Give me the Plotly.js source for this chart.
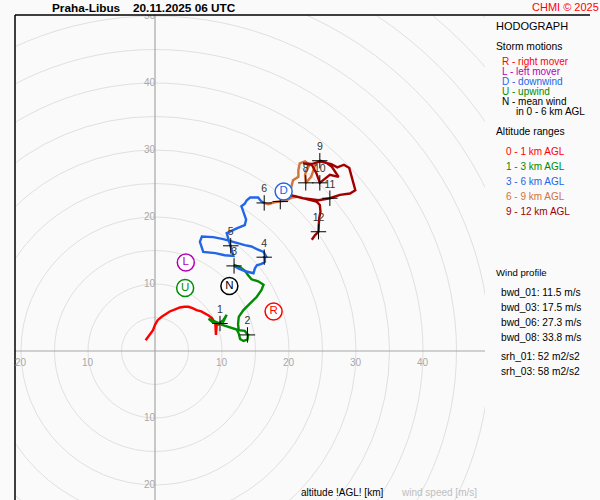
<!DOCTYPE html>
<html>
<head>
<meta charset="utf-8">
<script src="https://cdn.plot.ly/plotly-3.0.1.min.js"></script>
<style>html,body{margin:0;padding:0;background:#fafafa;}#chart{width:600px;height:500px;}</style>
</head>
<body>
<div id="chart"></div>
<script>
// ---------------- DATA (m/s, u = east, v = north) ----------------
const station = "Praha-Libus";
const timeLabel = "20.11.2025 06 UTC";

const layer01_u = [-1.4,-0.75,-0.3,0.0,0.4,1.0,1.6,2.2,3.0,3.7,4.4,5.0,5.6,6.2,6.9,7.5,8.0,8.5,9.0,9.1,9.2,9.7];
const layer01_v = [1.6,2.4,3.1,3.9,4.6,5.1,5.5,5.9,6.2,6.5,6.6,6.6,6.4,6.1,5.9,5.6,5.3,4.9,4.1,2.4,3.8,4.1];

const layer13_u = [9.7,8.6,8.0,8.6,9.5,10.2,10.7,10.2,10.0,10.9,12.2,12.5,12.7,13.2,13.8,13.9,13.4,12.5,12.4,12.5,13.2,14.2,15.2,15.9,16.2,15.4,14.4,13.9,13.4,12.7,11.9,11.8];
const layer13_v = [4.1,4.5,4.8,4.3,4.1,4.6,5.4,4.4,3.9,3.6,3.2,2.6,1.8,1.5,1.7,2.4,3.0,3.1,4.0,5.1,6.1,7.1,8.1,9.1,9.9,10.4,10.7,11.3,12.0,12.5,12.8,12.7];

const layer36_u = [11.8,12.5,13.5,14.4,14.7,14.9,15.2,15.9,16.4,16.4,16.3,16.6,16.2,15.2,14.4,13.4,11.7,10.2,8.7,7.0,6.7,7.0,7.2,9.0,10.4,11.7,11.3,11.0,10.7,12.2,13.4,13.6,13.2,12.9,13.4,13.7,14.2,15.4,15.8,16.3];
const layer36_v = [12.7,12.3,11.9,11.6,11.6,12.3,12.8,13.0,13.3,13.8,14.0,14.1,14.8,15.2,15.6,15.8,16.3,16.7,17.0,17.1,16.3,15.3,14.8,14.6,14.3,14.2,15.7,16.8,17.6,18.3,18.8,19.6,20.8,21.6,22.0,22.5,22.9,22.9,22.4,22.1];

const layer69_u = [16.3,16.9,17.8,18.7,19.6,20.4,21.3,20.4,20.1,20.3,20.4,20.6,21.4,21.4,21.6,22.4,23.1,22.6,22.4,22.5,23.3,23.6,24.0,24.6];
const layer69_v = [22.1,21.9,22.2,22.3,22.5,22.9,23.0,23.0,23.5,24.3,25.0,25.5,26.0,27.0,28.0,28.3,27.8,27.0,26.3,25.1,26.0,27.0,28.0,28.4];

const layer912_u = [24.6,25.6,26.4,27.4,26.1,24.6,24.1,23.4,22.1,23.4,24.6,26.3,27.2,28.2,29.0,29.3,29.7,29.9,29.1,27.6,26.1,24.4,22.1,20.1,22.1,24.1,24.6,24.7,24.5,24.4,23.9,23.4];
const layer912_v = [28.4,28.1,27.5,26.0,26.3,25.1,26.5,27.8,28.0,27.9,28.3,27.9,27.4,27.8,27.3,26.3,24.8,24.0,23.5,23.3,22.8,22.5,22.8,23.3,22.9,22.3,21.8,20.8,19.8,17.8,17.3,16.6];

const km_labels = ["1","2","3","4","5","6","7","8","9","10","11","12"];
const km_u = [9.7,13.8,11.8,16.3,11.3,16.3,18.7,22.5,24.6,24.6,26.1,24.4];
const km_v = [4.1,2.4,12.7,14.0,15.7,22.1,22.3,25.1,28.4,25.1,22.8,17.8];

const sm_labels = ["R","L","D","U","N"];
const sm_u = [17.7,4.6,19.2,4.5,11.1];
const sm_v = [5.9,13.2,23.8,9.4,9.7];

const ring_values = [5,10,15,20,25,30,35,40,45,50,55,60,65,70,75,80];
const xtick_vals = [-20,-10,10,20,30,40];
const ytick_vals = [-20,-10,10,20,30,40,50];

const legendStorm = ["R - right mover","L - left mover","D - downwind","U - upwind","N - mean wind"];
const legendAlt = ["0 - 1 km AGL","1 - 3 km AGL","3 - 6 km AGL","6 - 9 km AGL","9 - 12 km AGL"];
const windProfile = ["bwd_01: 11.5 m/s","bwd_03: 17.5 m/s","bwd_06: 27.3 m/s","bwd_08: 33.8 m/s"];
const srhProfile = ["srh_01: 52 m2/s2","srh_03: 58 m2/s2"];

// ---------------- STYLE ----------------
const FONT = "Liberation Sans, Arial, Helvetica, sans-serif";
const layerColors = ["#ff0000","#008c00","#2166e8","#d2733a","#a00000"];
const smColors = ["#ff0000","#b400b4","#2166e8","#008c00","#000000"];
const BG = "#fafafa";
const HIDDEN_KM_LABEL = 6; // the "7" label sits under the D marker in the original

// pixel -> paper helpers (plot area: x 15..485, y 15..500)
const px = x => (x - 15) / 470;
const py = y => (500 - y) / 485;

const traces = [];

// y tick labels as a clipped text trace (the top "50" is cut by the frame)
traces.push({
  type: "scatter", mode: "text", x: ytick_vals.map(() => 0), y: ytick_vals,
  text: ytick_vals.map(v => String(Math.abs(v))), textposition: "middle left",
  textfont: {family: FONT, size: 10, color: "#a8a8a8"}, cliponaxis: true, hoverinfo: "skip"
});

const layers = [
  [layer01_u, layer01_v], [layer13_u, layer13_v], [layer36_u, layer36_v],
  [layer69_u, layer69_v], [layer912_u, layer912_v]
];
layers.forEach((L, i) => traces.push({
  type: "scatter", mode: "lines", x: L[0], y: L[1],
  line: {color: layerColors[i], width: 2.4}, hoverinfo: "skip"
}));

traces.push({
  type: "scatter", mode: "markers+text", x: km_u, y: km_v,
  text: km_labels.map((t, i) => i === HIDDEN_KM_LABEL ? "" : t),
  textposition: "top center",
  textfont: {family: FONT, size: 10.5, color: "#333333"},
  marker: {symbol: "cross-thin", size: 11, line: {color: "#000000", width: 1}},
  hoverinfo: "skip"
});

traces.push({
  type: "scatter", mode: "markers+text", x: sm_u, y: sm_v, text: sm_labels,
  textposition: "middle center",
  textfont: {family: FONT, size: 11.5, color: smColors},
  marker: {symbol: "circle", size: 17, color: "#ffffff", line: {color: smColors, width: 1.5}},
  hoverinfo: "skip"
});

const shapes = [];
ring_values.forEach(r => shapes.push({
  type: "circle", xref: "x", yref: "y", x0: -r, x1: r, y0: -r, y1: r,
  line: {color: "#e0e0e0", width: 1}, layer: "below"
}));
shapes.push({type: "line", xref: "x", yref: "y", x0: -40, x1: 90, y0: 0, y1: 0, line: {color: "#a6a6a6", width: 1.2}, layer: "below"});
shapes.push({type: "line", xref: "x", yref: "y", x0: 0, x1: 0, y0: -40, y1: 90, line: {color: "#a6a6a6", width: 1.2}, layer: "below"});
// frame
shapes.push({type: "line", xref: "paper", yref: "paper", x0: 0, x1: px(590), y0: 1, y1: 1, line: {color: "#000", width: 1.5}});
shapes.push({type: "line", xref: "paper", yref: "paper", x0: 0, x1: 0, y0: 0, y1: 1, line: {color: "#000", width: 1.5}});

const ann = [];
xtick_vals.forEach(v => ann.push({
  xref: "x", yref: "y", x: v, y: 0, yshift: -11, text: String(Math.abs(v)),
  showarrow: false, font: {family: FONT, size: 10, color: "#a8a8a8"}, xanchor: "center", yanchor: "middle"
}));

function txt(x, y, t, size, color, opts) {
  ann.push(Object.assign({
    xref: "paper", yref: "paper", x: px(x), y: py(y), text: t, showarrow: false,
    xanchor: "left", yanchor: "middle", font: {family: FONT, size: size, color: color}
  }, opts || {}));
}

txt(50, 8, "<b>" + station + "</b>", 11.8, "#000");
txt(131, 8, "<b>" + timeLabel + "</b>", 11.8, "#000");
txt(530, 7, "CHMI © 2025", 11, "#ff0000");
txt(494, 26, "HODOGRAPH", 11, "#000");
txt(494, 46.5, "Storm motions", 10.3, "#000");
legendStorm.forEach((t, i) => txt(500, 61.7 + i * 10, t, 10, smColors[i]));
txt(514, 111.7, "in 0 - 6 km AGL", 10, "#000");
txt(494, 131.5, "Altitude ranges", 10.3, "#000");
legendAlt.forEach((t, i) => txt(504, 151.7 + i * 15, t, 10, layerColors[i]));
txt(494, 272.5, "Wind profile", 9.6, "#000");
windProfile.forEach((t, i) => txt(499, 292 + i * 15.1, t, 10.2, "#000"));
srhProfile.forEach((t, i) => txt(499, 356.5 + i * 14.5, t, 10.2, "#000"));
txt(299, 492, "altitude !AGL! [km]", 10, "#000");
txt(399, 492, "wind speed [m/s]", 10, "#bdbdbd");

const layout = {
  width: 600, height: 500,
  margin: {l: 15, r: 115, t: 15, b: 0, pad: 0},
  paper_bgcolor: BG, plot_bgcolor: BG,
  showlegend: false,
  xaxis: {range: [-140 / 6.7, 330 / 6.7], showgrid: false, zeroline: false, showticklabels: false, showline: false, ticks: "", fixedrange: true},
  yaxis: {range: [(351 - 500) / 6.7, (351 - 15) / 6.7], showgrid: false, zeroline: false, showticklabels: false, showline: false, ticks: "", fixedrange: true},
  shapes: shapes,
  annotations: ann,
  font: {family: FONT}
};

Plotly.newPlot("chart", traces, layout, {staticPlot: true, displayModeBar: false});
</script>
</body>
</html>
